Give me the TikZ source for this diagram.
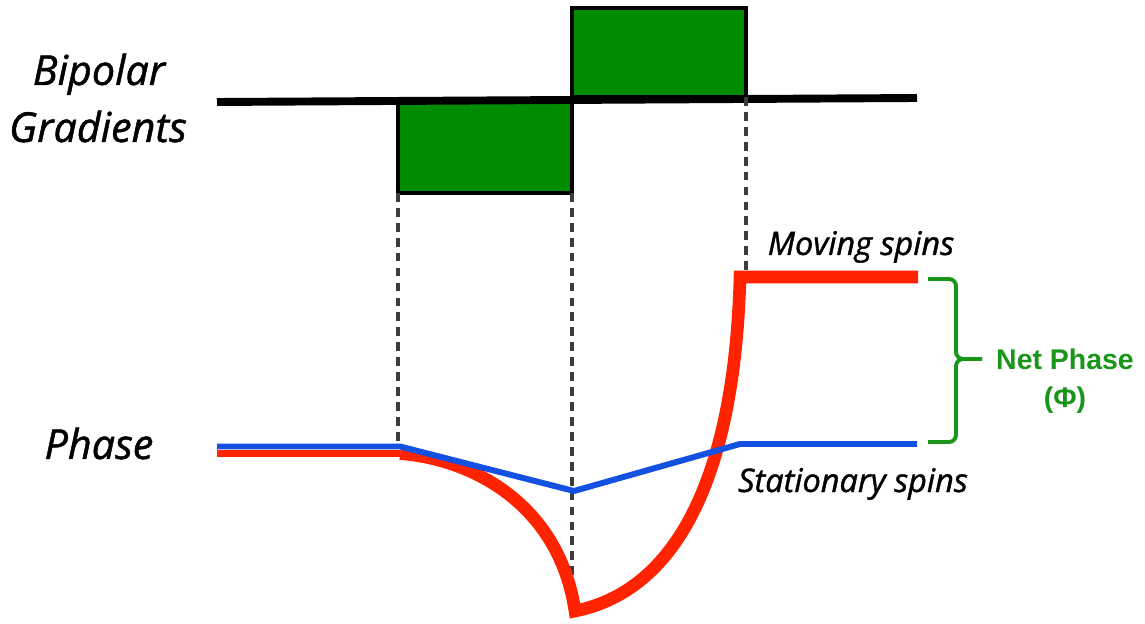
\documentclass[tikz,border=0pt]{standalone}
\usepackage{fontspec}
\setmainfont{Open Sans}
\newfontfamily\semifont{Open Sans}[ItalicFeatures={FakeBold=1.2}]
\newfontfamily\netfont{Liberation Sans}
\begin{document}
\begin{tikzpicture}[x=0.02cm, y=-0.02cm,
  lbl/.style={inner sep=0pt, font=\semifont\itshape\fontsize{23.5pt}{27pt}\selectfont},
  spin/.style={inner sep=0pt, font=\semifont\itshape\fontsize{18.5pt}{21pt}\selectfont},
  net/.style={inner sep=0pt, text=colorNet, font=\netfont\bfseries\fontsize{16.2pt}{19pt}\selectfont},
  gradbox/.style={draw=black, line width=2.8pt, fill=colorGrad, inner sep=0pt, outer sep=0pt, minimum width=3.48cm},
  guide/.style={draw=colorGuide, line width=1.8pt, dash pattern=on 5pt off 3.5pt},
  axis/.style={draw=black, line width=4.5pt},
  moving/.style={draw=colorMoving, line join=miter},
  stationary/.style={draw=colorStat, line width=3.4pt, line join=miter},
  netbrace/.style={draw=colorNet, line width=2.2pt, rounded corners=4pt}
    ]
    % colori
    \definecolor{colorGrad}{RGB}{0, 140, 0}
    \definecolor{colorGuide}{RGB}{60, 60, 60}
    \definecolor{colorMoving}{RGB}{255, 35, 0}
    \definecolor{colorStat}{RGB}{20, 80, 225}
    \definecolor{colorNet}{RGB}{25, 150, 25}
    \useasboundingbox (0,0) rectangle (1145,624);

    % gradienti
    \node[gradbox, minimum height=1.86cm, anchor=north west] (neg) at (398,100) {};
    \node[gradbox, minimum height=1.78cm, anchor=south west] (pos) at (572,97) {};
    \coordinate (axL) at (217,102);
    \coordinate (axR) at (917,98);
    \draw[axis] (axL) -- (axR);

    % linee guida
    \coordinate (d1) at (400,448);
    \coordinate (d2) at (573,577);
    \coordinate (d3) at (746,278);
    \draw[guide] (neg.south west) -- (neg.south west |- d1);
    \draw[guide] (neg.south east) -- (neg.south east |- d2);
    \draw[guide] (pos.south east) -- (pos.south east |- d3);

    % fase
    \coordinate (mv0) at (217,453.5);
    \coordinate (mv1) at (400,453.5);
    \coordinate (mv2) at (575,611);
    \coordinate (mv3) at (740,277);
    \coordinate (mv4) at (918,277);
    \draw[moving, line width=4pt] (mv0) -- (mv1);
    \draw[moving, line width=7.2pt] (mv1) .. controls (480,460) and (560,510) .. (mv2)
      .. controls (680,590) and (735,470) .. (mv3) -- (mv4);

    \coordinate (st0) at (217,446.5);
    \coordinate (st1) at (400,446.5);
    \coordinate (st2) at (574,491);
    \coordinate (st3) at (740,444);
    \coordinate (st4) at (917,444);
    \draw[stationary] (st0) -- (st1) -- (st2) -- (st3) -- (st4);

    % parentesi
    \coordinate (brTop) at (928,279);
    \coordinate (brBot) at (928,442);
    \coordinate (brTip) at (982,359);
    \draw[netbrace] (brTop) -- (956,279) -- (956,359) -- (brTip);
    \draw[netbrace] (brBot) -- (956,442) -- (956,359) -- (brTip);

    % testi
    \node[lbl, anchor=base] (bipolar) at (99,85) {Bipolar};
    \node[lbl, anchor=base] (gradients) at (98,142) {Gradients};
    \node[lbl, anchor=base] (phase) at (99,459) {Phase};
    \node[spin, anchor=base] (movingTxt) at (861,255) {Moving spins};
    \node[spin, anchor=base] (statTxt) at (853,492) {Stationary spins};
    \node[net, anchor=base] (netTxt) at (1065,370) {Net Phase};
    \node[net, anchor=base] (phiTxt) at (1065,408) {(Φ)};
    \end{tikzpicture}
\end{document}
